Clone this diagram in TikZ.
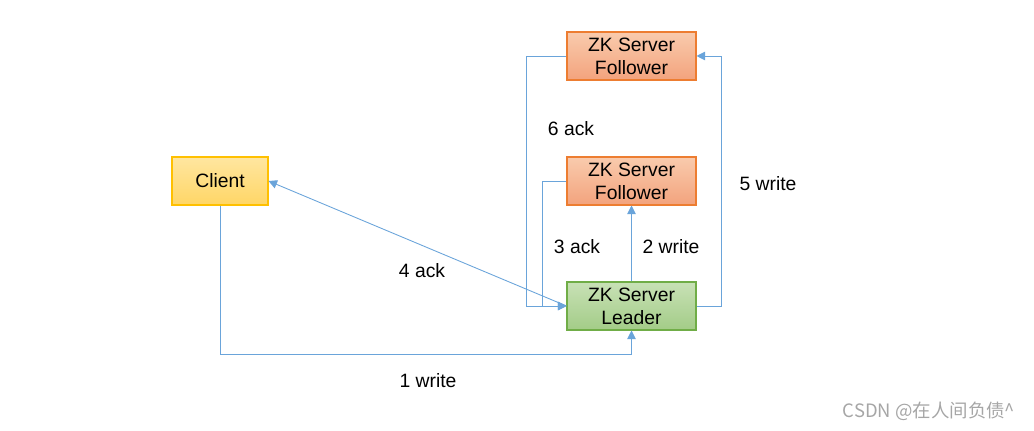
\documentclass[tikz,border=0pt]{standalone}
\usepackage{fontspec}
\setmainfont{Liberation Sans}
\newfontfamily\cjk{Noto Sans CJK SC}
\usetikzlibrary{arrows.meta}

\definecolor{linkblue}{HTML}{6AA4DA}
\definecolor{clientline}{HTML}{FFC000}
\definecolor{followline}{HTML}{ED7D31}
\definecolor{leadline}{HTML}{70AD47}

\tikzset{
    box/.style={draw, line width=0.6pt, minimum height=0.96cm, inner sep=1pt, align=center, font=\fontsize{11}{13}\selectfont},
    clientbox/.style={box, draw=clientline, top color={rgb,255:red,255;green,230;blue,160}, bottom color={rgb,255:red,255;green,214;blue,102}, minimum width=1.92cm},
    followbox/.style={box, draw=followline, top color={rgb,255:red,249;green,203;blue,173}, bottom color={rgb,255:red,243;green,163;blue,125}, minimum width=2.58cm},
    leadbox/.style={box, draw=leadline, top color={rgb,255:red,200;green,225;blue,182}, bottom color={rgb,255:red,163;green,204;blue,135}, minimum width=2.58cm},
    link/.style={draw=linkblue, line width=0.5pt, -{Triangle[length=1.7mm,width=1.7mm]}},
    lbl/.style={font=\fontsize{11}{13}\selectfont}
}

\begin{document}
\begin{tikzpicture}[x=0.02cm, y=-0.02cm]
        \useasboundingbox (0,0) rectangle (1034,431);

        \node[clientbox] (client) at (220,181) {Client};
        \node[followbox] (f1) at (631.5,56) {ZK Server\\Follower};
        \node[followbox] (f2) at (631.5,181) {ZK Server\\Follower};
        \node[leadbox] (leader) at (631.5,306) {ZK Server\\Leader};

        \draw[link] (client.south) -- (client.south |- 0,354) -| (leader.south);
        \node[lbl] (l1) at (428,381) {1 write};
        \draw[link] (leader.north) -- (f2.south);
        \node[lbl] (l2) at (671,247) {2 write};
        \draw[link] (f2.west) -- ++(-24,0) |- (leader.west);
        \node[lbl] (l3) at (577,247) {3 ack};
        \draw[link] (leader.west) -- (client.east);
        \node[lbl] (l4) at (422,271) {4 ack};
        \draw[link] (leader.east) -- ++(25,0) |- (f1.east);
        \node[lbl] (l5) at (768,184) {5 write};
        \draw[link] (f1.west) -- ++(-40,0) |- (leader.west);
        \node[lbl] (l6) at (571,129) {6 ack};

        \node[font=\cjk\fontsize{10.5}{12}\selectfont, text=black!35] (mark) at (929,411) {CSDN @在人间负债\^{}};
    \end{tikzpicture}
\end{document}
